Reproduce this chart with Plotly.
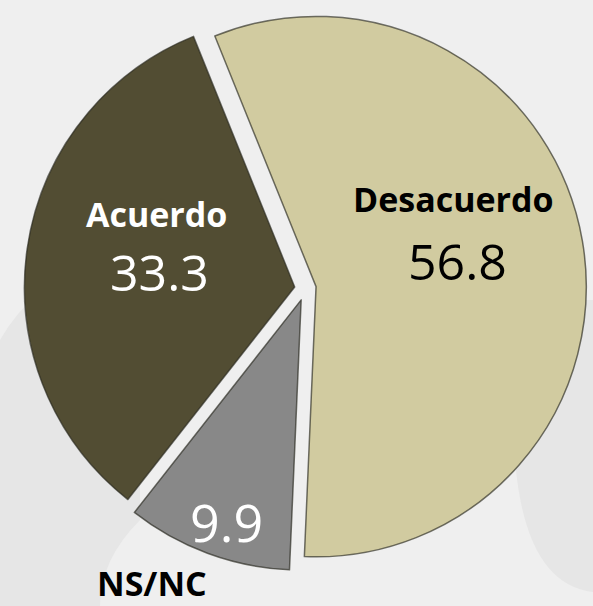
import plotly.graph_objects as go

W, H = 593, 606

labels = ["Desacuerdo", "NS/NC", "Acuerdo"]
values = [56.8, 9.9, 33.3]
colors = ["#d1cba0", "#888888", "#524d33"]
pulls = [0.04, 0.045, 0.04]

fig = go.Figure(go.Pie(
    labels=labels,
    values=values,
    sort=False,
    direction="clockwise",
    rotation=-22,
    pull=pulls,
    marker=dict(colors=colors, line=dict(color="rgba(40,40,30,0.65)", width=1.5)),
    textinfo="none",
    hoverinfo="label+value",
    showlegend=False,
    domain=dict(x=[0.03, 1.0], y=[0.058, 0.99]),
))

def px(x, y):
    return x / W, 1 - y / H

font_family = "Open Sans"
ann = []
for text, (x, y), size, bold, color in [
    (labels[0], (453, 199), 34, True, "#000000"),
    (f"{values[0]:.1f}", (457, 261), 50, False, "#000000"),
    (labels[2], (156, 214), 34, True, "#ffffff"),
    (f"{values[2]:.1f}", (159, 272), 50, False, "#ffffff"),
    (f"{values[1]:.1f}", (226, 521), 52, False, "#ffffff"),
    (labels[1], (152, 583), 34, True, "#000000"),
]:
    ax, ay = px(x, y)
    ann.append(dict(
        x=ax, y=ay, xref="paper", yref="paper", xanchor="center", yanchor="middle",
        text=f"<b>{text}</b>" if bold else text, showarrow=False,
        font=dict(family=font_family, size=size, color=color),
    ))

def path(points):
    parts = []
    for cmd, pts in points:
        coords = " ".join(f"{x / W:.4f},{1 - y / H:.4f}" for x, y in pts)
        parts.append(f"{cmd} {coords}")
    return " ".join(parts) + " Z"

wm = "#e6e6e6"
shapes = [
    dict(type="path", xref="paper", yref="paper", layer="below", line=dict(width=0), fillcolor=wm,
         path=path([("M", [(0, 340)]), ("Q", [(40, 270), (140, 240)]), ("L", [(140, 520)]),
                    ("Q", [(100, 560), (100, 606)]), ("L", [(0, 606)])])),
    dict(type="path", xref="paper", yref="paper", layer="below", line=dict(width=0), fillcolor=wm,
         path=path([("M", [(380, 45)]), ("L", [(593, 8), (593, 120), (380, 160)])])),
    dict(type="path", xref="paper", yref="paper", layer="below", line=dict(width=0), fillcolor=wm,
         path=path([("M", [(593, 300)]), ("L", [(520, 300), (470, 470)]),
                    ("Q", [(490, 580), (593, 592)])])),
]

fig.update_layout(
    width=W, height=H,
    margin=dict(l=0, r=0, t=0, b=0),
    paper_bgcolor="#efefef",
    plot_bgcolor="#efefef",
    annotations=ann,
    shapes=shapes,
)

fig.write_html(
    "out.html",
    config={"displayModeBar": False},
    post_script="document.body.style.margin='0';document.body.style.overflow='hidden';",
)
